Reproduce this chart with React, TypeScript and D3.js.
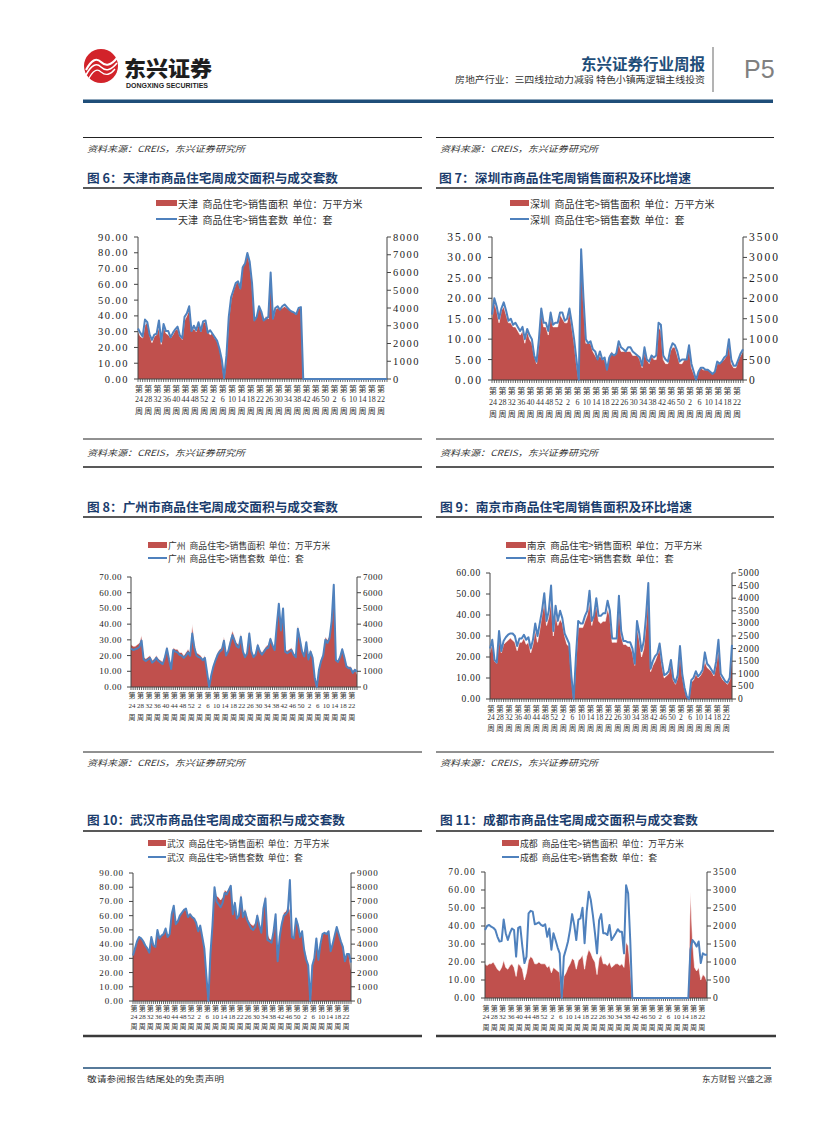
import * as React from 'react';
import * as d3 from 'd3';

// week categories shared by every chart (only every 4th one gets a label)
const weekLabels = [
  '24', '25', '26', '27', '28', '29', '30', '31', '32', '33', '34', '35', '36', '37', '38', '39', '40', '41', '42', '43',
  '44', '45', '46', '47', '48', '49', '50', '51', '52', '53',
  '0', '1', '2', '3', '4', '5', '6', '7', '8', '9', '10', '11', '12', '13', '14', '15', '16', '17', '18', '19',
  '20', '21', '22', '23', '24', '25', '26', '27', '28', '29', '30', '31', '32', '33', '34', '35', '36', '37', '38', '39',
  '40', '41', '42', '43', '44', '45', '46', '47', '48', '49', '50', '51', '52',
  '1', '2', '3', '4', '5', '6', '7', '8', '9', '10', '11', '12', '13', '14', '15', '16', '17', '18', '19', '20',
  '21', '22', '23', '24', '25',
];

// 天津
const tianjinArea = [
  30, 27, 26, 34, 36, 28, 23, 27, 28, 33,
  22, 34, 29, 28, 26, 28, 31, 32, 27, 25,
  37, 40, 44, 30, 32, 30, 35, 30, 36, 36,
  30, 28, 29, 26, 24, 20, 12, 0, 14, 38,
  50, 56, 60, 62, 57, 72, 74, 79, 73, 60,
  37, 40, 46, 43, 37, 40, 38, 66, 38, 44,
  45, 44, 45, 46, 45, 44, 43, 42, 41, 45,
  45, 0, 0, 0, 0, 0, 0, 0, 0, 0,
  0, 0, 0, 0, 0, 0, 0, 0, 0, 0,
  0, 0, 0, 0, 0, 0, 0, 0, 0, 0,
  0, 0, 0, 0, 0, 0, 0, 0,
];
const tianjinSets = [
  2850, 2600, 2400, 3350, 3200, 2500, 2200, 2500, 2550, 3300,
  2100, 3100, 2700, 2700, 2350, 2600, 2800, 2950, 2450, 2300,
  3500, 3700, 4100, 2700, 3000, 2750, 3200, 2700, 3250, 3300,
  2600, 2750, 2550, 2350, 2150, 1700, 1100, 50, 1300, 3500,
  4600, 5000, 5400, 5500, 5100, 6300, 6500, 7100, 6600, 5400,
  3300, 3500, 4100, 3800, 3300, 3400, 3500, 6000, 3400, 4000,
  4100, 3900, 4100, 4200, 4050, 3900, 3800, 3750, 3650, 4000,
  4050, 0, 0, 0, 0, 0, 0, 0, 0, 0,
  0, 0, 0, 0, 0, 0, 0, 0, 0, 0,
  0, 0, 0, 0, 0, 0, 0, 0, 0, 0,
  0, 0, 0, 0, 0, 0, 0, 0,
];

// 深圳
const shenzhenArea = [
  15, 19, 17, 14, 17, 18, 16, 14, 14, 13,
  13, 12, 11, 12, 9, 12, 10, 9, 6, 4,
  9, 17, 13, 13, 11, 16, 13, 13, 13, 16,
  15, 14, 14, 17, 13, 9, 4, 0, 30, 19,
  9, 9, 9, 7, 6, 5, 6, 5, 5, 3,
  6, 7, 6, 7, 9, 7, 7, 7, 7, 7,
  6, 6, 6, 5, 3, 7, 5, 4, 6, 5,
  5, 13, 12, 5, 4, 4, 7, 8, 8, 6,
  4, 4, 5, 5, 8, 3, 1.5, 0, 2, 3,
  2.5, 2.5, 2.5, 2, 1.5, 2, 4, 4, 4.5, 5,
  6, 9, 4, 3, 3, 5, 6, 7,
];
const shenzhenSets = [
  1600, 2000, 1800, 1500, 1750, 1900, 1700, 1450, 1500, 1350,
  1400, 1300, 1200, 1300, 1000, 1250, 1100, 1000, 600, 450,
  1000, 1750, 1400, 1400, 1200, 1650, 1350, 1400, 1400, 1650,
  1650, 1450, 1500, 1750, 1400, 1000, 500, 0, 3200, 2000,
  1000, 900, 950, 750, 700, 500, 700, 500, 550, 250,
  550, 650, 600, 650, 950, 800, 750, 700, 800, 800,
  700, 650, 600, 550, 350, 800, 500, 450, 600, 550,
  600, 1400, 1350, 600, 500, 450, 750, 900, 850, 700,
  450, 500, 500, 500, 850, 400, 200, 0, 200, 300,
  300, 250, 250, 200, 150, 200, 450, 400, 450, 550,
  600, 1000, 500, 350, 350, 500, 650, 750,
];

// 广州
const guangzhouArea = [
  27, 26, 26, 27, 28, 33, 19, 18, 19, 20,
  17, 18, 20, 18, 17, 16, 20, 26, 19, 13,
  25, 24, 24, 22, 22, 20, 22, 24, 22, 40,
  28, 22, 21, 20, 18, 20, 10, 0, 8, 14,
  18, 22, 24, 25, 32, 21, 24, 30, 36, 32,
  28, 27, 34, 24, 20, 23, 36, 24, 20, 22,
  28, 24, 22, 24, 26, 27, 32, 28, 25, 40,
  54, 38, 51, 24, 23, 24, 25, 22, 20, 39,
  32, 24, 21, 30, 19, 24, 20, 6, 0, 12,
  18, 22, 32, 30, 33, 42, 66, 18, 17, 20,
  25, 20, 14, 13, 13, 10, 12, 8,
];
const guangzhouSets = [
  2450, 2350, 2400, 2450, 2550, 2950, 1750, 1650, 1750, 1850,
  1550, 1650, 1850, 1650, 1550, 1450, 1850, 2450, 1750, 1150,
  2350, 2250, 2200, 2050, 2000, 1850, 2000, 2200, 2000, 3400,
  2500, 2000, 1900, 1850, 1700, 1850, 950, 0, 750, 1300,
  1700, 2050, 2250, 2350, 2950, 2000, 2250, 2800, 3300, 2950,
  2600, 2500, 3200, 2250, 1900, 2150, 3400, 2250, 1900, 2050,
  2650, 2250, 2050, 2250, 2450, 2500, 3050, 2650, 2350, 3900,
  5300, 3600, 5000, 2250, 2150, 2250, 2350, 2050, 1900, 3700,
  3000, 2250, 1950, 2850, 1750, 2250, 1850, 550, 0, 1100,
  1650, 2000, 3000, 2800, 3100, 4200, 6500, 1700, 1600, 1900,
  2400, 1900, 1300, 1200, 1200, 900, 1100, 1000,
];

// 南京
const nanjingArea = [
  22, 27, 18, 17, 30, 22, 26, 27, 28, 29,
  28, 27, 23, 27, 27, 29, 26, 27, 22, 26,
  33, 27, 33, 40, 46, 35, 39, 47, 30, 40,
  35, 38, 36, 30, 26, 25, 10, 0, 18, 34,
  34, 34, 37, 40, 46, 35, 40, 45, 37, 36,
  37, 37, 43, 39, 27, 27, 27, 45, 30, 26,
  26, 25, 25, 22, 16, 34, 28, 20, 24, 35,
  53, 13, 16, 18, 21, 24, 16, 10, 11, 12,
  17, 9, 7, 10, 23, 11, 5, 1, 0, 8,
  9, 12, 10, 11, 13, 18, 15, 14, 13, 11,
  16, 24, 11, 9, 8, 7, 9, 24,
];
const nanjingSets = [
  2000, 2350, 1550, 1450, 2700, 1900, 2300, 2450, 2550, 2600,
  2600, 2500, 2100, 2400, 2400, 2550, 2350, 2450, 2000, 2350,
  3000, 2500, 3000, 3500, 4200, 3100, 3500, 4500, 2700, 3700,
  3100, 3500, 3200, 2600, 2400, 2200, 900, 0, 1700, 3100,
  3000, 3000, 3300, 3500, 4300, 3100, 3300, 4000, 3300, 3300,
  3400, 3400, 3900, 3500, 2400, 2400, 2400, 4100, 2700, 2300,
  2300, 2250, 2250, 2000, 1400, 3100, 2600, 1900, 2300, 3300,
  4600, 1200, 1500, 1700, 1800, 2200, 1500, 950, 1000, 1100,
  1550, 850, 650, 950, 2100, 1000, 450, 100, 0, 750,
  850, 1100, 900, 1000, 1150, 1850, 1400, 1300, 1150, 1000,
  1500, 2350, 1000, 850, 700, 650, 850, 2150,
];

// 武汉
const wuhanArea = [
  33, 37, 42, 45, 44, 43, 40, 38, 35, 44,
  40, 38, 50, 45, 46, 48, 51, 46, 48, 63,
  67, 56, 57, 60, 63, 65, 64, 60, 62, 60,
  58, 56, 50, 53, 46, 38, 20, 0, 35, 55,
  80, 74, 73, 71, 73, 78, 77, 79, 82, 66,
  70, 58, 62, 76, 61, 65, 60, 56, 54, 53,
  55, 62, 55, 50, 67, 75, 48, 44, 43, 50,
  62, 32, 48, 56, 62, 63, 67, 64, 46, 45,
  58, 55, 45, 50, 38, 32, 27, 0, 25, 30,
  45, 31, 40, 47, 48, 48, 50, 36, 41, 47,
  52, 48, 43, 39, 28, 33, 33, 22,
];
const wuhanSets = [
  3200, 3700, 4200, 4500, 4400, 4200, 3900, 3700, 3400, 4500,
  3900, 3800, 5000, 4400, 4600, 4700, 5100, 4500, 4700, 6100,
  6700, 5400, 5600, 6000, 6200, 6400, 6500, 5900, 6100, 5900,
  5800, 5500, 4900, 5300, 4500, 3700, 1800, 0, 3300, 5300,
  8000, 7000, 6800, 6600, 6900, 7600, 7500, 7800, 8100, 6100,
  6900, 5800, 6000, 7300, 5900, 6300, 5700, 5400, 5100, 5000,
  5200, 6000, 5300, 4800, 6500, 7200, 4300, 4200, 4100, 4900,
  6100, 2800, 4500, 5400, 6000, 6100, 6300, 8500, 4500, 4400,
  5800, 5300, 4500, 4900, 3600, 2900, 2500, 0, 2500, 3000,
  4400, 2900, 4000, 4700, 4800, 4700, 4900, 3500, 4000, 4600,
  5200, 4700, 4200, 3800, 2800, 3300, 3300, 2700,
];

// 成都
const chengduArea = [
  19, 18, 19, 19, 20, 18, 16, 15, 17, 21,
  17, 16, 18, 19, 17, 12, 19, 18, 16, 10,
  14, 21, 23, 22, 19, 19, 20, 19, 19, 19,
  17, 18, 14, 17, 16, 15, 14, 0, 12, 14,
  17, 19, 22, 21, 16, 21, 22, 24, 16, 23,
  27, 25, 22, 20, 13, 22, 24, 19, 19, 18,
  20, 17, 18, 19, 19, 18, 19, 17, 31, 29,
  17, 0, 0, 0, 0, 0, 0, 0, 0, 0,
  0, 0, 0, 0, 0, 0, 0, 0, 0, 0,
  0, 0, 0, 0, 0, 0, 0, 0, 0, 59,
  32, 17, 15, 17, 10, 13, 12, 9,
];
const chengduSets = [
  1890, 2000, 2030, 1980, 1950, 1890, 1700, 1570, 1580, 2180,
  1800, 1610, 1800, 1930, 1890, 1150, 1950, 1980, 1430, 970,
  1150, 2350, 2420, 2400, 2050, 2070, 2100, 2030, 2000, 2050,
  1700, 1930, 1340, 1800, 1610, 1400, 1240, 0, 1150, 1350,
  1570, 1900, 2330, 2030, 1610, 2180, 2210, 2510, 1520, 2390,
  2950, 2720, 2300, 1800, 1240, 2160, 2330, 1800, 1800, 1750,
  2030, 1610, 1700, 1800, 1910, 1840, 1840, 1240, 3130, 2900,
  1610, 0, 0, 0, 0, 0, 0, 0, 0, 0,
  0, 0, 0, 0, 0, 0, 0, 0, 0, 0,
  0, 0, 0, 0, 0, 0, 0, 0, 0, 1340,
  1610, 1540, 1430, 1570, 970, 1240, 1200, 1200,
];

const CJK = '"Noto Sans CJK SC", "Noto Sans", sans-serif';
const SERIF = '"Liberation Serif", "DejaVu Serif", serif';
const RED = '#C0504D';
const BLUE = '#4F81BD';
const NAVY = '#1b3d6d';
const AXIS = '#444';
const SP = '\u00A0';

const charts = [
  {
    title: '图 6：天津市商品住宅周成交面积与成交套数', city: '天津', area: tianjinArea, sets: tianjinSets,
    yMax: 90, yStep: 10, y2Max: 8000, y2Step: 1000,
    l: 138, r: 387, t: 237, b: 379, tf: 10.5, tls: 1.5, xf: 8, xl: [388, 399, 410],
    legX: 156, legW: 21, legY: [203, 219], legF: 10,
    titleX: 87, titleY: 177, titleW: 251,
  },
  {
    title: '图 7：深圳市商品住宅周销售面积及环比增速', city: '深圳', area: shenzhenArea, sets: shenzhenSets,
    yMax: 35, yStep: 5, y2Max: 3500, y2Step: 500,
    l: 492, r: 743, t: 237, b: 380, tf: 11.5, tls: 2, xf: 8, xl: [390, 402, 413],
    legX: 510, legW: 19, legY: [203, 219], legF: 10,
    titleX: 439, titleY: 177, titleW: 252,
  },
  {
    title: '图 8：广州市商品住宅周成交面积与成交套数', city: '广州', area: guangzhouArea, sets: guangzhouSets,
    yMax: 70, yStep: 10, y2Max: 7000, y2Step: 1000,
    l: 131, r: 357, t: 577, b: 687, tf: 9, tls: 0.5, xf: 7, xl: [695, 706, 717],
    legX: 148, legW: 19, legY: [545, 558], legF: 8.8,
    titleX: 87, titleY: 506, titleW: 251,
  },
  {
    title: '图 9：南京市商品住宅周销售面积及环比增速', city: '南京', area: nanjingArea, sets: nanjingSets,
    yMax: 60, yStep: 10, y2Max: 5000, y2Step: 500,
    l: 490, r: 732, t: 573, b: 699, tf: 9.5, tls: 0.7, xf: 7.5, xl: [708, 717, 727],
    legX: 506, legW: 20, legY: [545, 558], legF: 9.5,
    titleX: 440, titleY: 506, titleW: 252,
  },
  {
    title: '图 10：武汉市商品住宅周成交面积与成交套数', city: '武汉', area: wuhanArea, sets: wuhanSets,
    yMax: 90, yStep: 10, y2Max: 9000, y2Step: 1000,
    l: 133, r: 351, t: 873, b: 1001, tf: 9, tls: 0.9, xf: 7, xl: [1008, 1017, 1026],
    legX: 148, legW: 18, legY: [843, 857], legF: 8.8,
    titleX: 87, titleY: 819, titleW: 258,
  },
  {
    title: '图 11：成都市商品住宅周成交面积与成交套数', city: '成都', area: chengduArea, sets: chengduSets,
    yMax: 70, yStep: 10, y2Max: 3500, y2Step: 500,
    l: 485, r: 707, t: 872, b: 998, tf: 9.5, tls: 1.3, xf: 7, xl: [1008, 1017, 1027],
    legX: 502, legW: 17, legY: [843, 857], legF: 8.9,
    titleX: 440, titleY: 819, titleW: 258,
  },
];

function Chart({ c }: { c: any }) {
  const n = c.area.length;
  const x = d3.scalePoint<number>().domain(d3.range(n)).range([c.l, c.r]);
  const y = d3.scaleLinear().domain([0, c.yMax]).range([c.b, c.t]);
  const y2 = d3.scaleLinear().domain([0, c.y2Max]).range([c.b, c.t]);

  const areaGen = d3.area<number>().x((_, i) => x(i)!).y0(c.b).y1(d => y(d));
  const topGen = d3.line<number>().x((_, i) => x(i)!).y(d => y(d));
  const lineGen = d3.line<number>().x((_, i) => x(i)!).y(d => y2(d));

  const ticks = d3.range(0, c.yMax + 1e-9, c.yStep);
  const ticks2 = d3.range(0, c.y2Max + 1e-9, c.y2Step);

  return (
    <g>
      {/* legend */}
      <rect x={c.legX} y={c.legY[0] - 3} width={c.legW} height={6} fill={RED} />
      <text x={c.legX + c.legW + 1} y={c.legY[0]} dominantBaseline="central" fontFamily={CJK} fontSize={c.legF} fill="#333">
        {c.city + SP + ' 商品住宅>销售面积' + SP + ' 单位：万平方米'}
      </text>
      <line x1={c.legX} x2={c.legX + c.legW} y1={c.legY[1]} y2={c.legY[1]} stroke={BLUE} strokeWidth={2} />
      <text x={c.legX + c.legW + 1} y={c.legY[1]} dominantBaseline="central" fontFamily={CJK} fontSize={c.legF} fill="#333">
        {c.city + SP + ' 商品住宅>销售套数' + SP + ' 单位：套'}
      </text>

      {/* area */}
      <path d={areaGen(c.area)!} fill={RED} />
      <path d={topGen(c.area)!} fill="none" stroke="#fff" strokeWidth={0.7} strokeOpacity={0.85} />

      {/* left axis */}
      <line x1={c.l} x2={c.l} y1={c.t} y2={c.b} stroke={AXIS} strokeWidth={1} />
      {ticks.map(v => (
        <g key={'l' + v}>
          <line x1={c.l - 4} x2={c.l} y1={y(v)} y2={y(v)} stroke={AXIS} strokeWidth={1} />
          <text x={c.l - 9} y={y(v)} textAnchor="end" dominantBaseline="central" fontFamily={SERIF}
            fontSize={c.tf} letterSpacing={c.tls} fill="#222">{v.toFixed(2)}</text>
        </g>
      ))}

      {/* right axis */}
      <line x1={c.r} x2={c.r} y1={c.t} y2={c.b} stroke={AXIS} strokeWidth={1} />
      {ticks2.map(v => (
        <g key={'r' + v}>
          <line x1={c.r} x2={c.r + 4} y1={y2(v)} y2={y2(v)} stroke={AXIS} strokeWidth={1} />
          <text x={c.r + 6} y={y2(v)} dominantBaseline="central" fontFamily={SERIF}
            fontSize={c.tf} letterSpacing={c.tls} fill="#222">{v}</text>
        </g>
      ))}

      {/* category axis */}
      <line x1={c.l} x2={c.r} y1={c.b} y2={c.b} stroke={AXIS} strokeWidth={1.2} />
      {d3.range(n).map(i => (
        <line key={'t' + i} x1={x(i)} x2={x(i)} y1={c.b} y2={c.b + 3} stroke={AXIS} strokeWidth={0.8} />
      ))}
      {d3.range(0, n, 4).map(i => (
        <g key={'x' + i} fill="#333" textAnchor="middle">
          <text x={x(i)! + 1} y={c.xl[0]} dominantBaseline="central" fontFamily={CJK} fontSize={c.xf}>第</text>
          <text x={x(i)! + 1} y={c.xl[1]} dominantBaseline="central" fontFamily={SERIF} fontSize={c.xf}>{weekLabels[i]}</text>
          <text x={x(i)! + 1} y={c.xl[2]} dominantBaseline="central" fontFamily={CJK} fontSize={c.xf}>周</text>
        </g>
      ))}

      {/* line series on top of the axes */}
      <path d={lineGen(c.sets)!} fill="none" stroke={BLUE} strokeWidth={2} strokeLinejoin="round" />

      {/* title */}
      <text x={c.titleX} y={c.titleY} dominantBaseline="central" fontFamily={CJK} fontSize={12.5} fontWeight={700}
        fill={NAVY} textLength={c.titleW} lengthAdjust="spacingAndGlyphs">{c.title}</text>
    </g>
  );
}

const cols = [[83, 422], [436, 774]];
const rules = [
  { y: 137.5, w: 1, c: '#222' },
  { y: 188, w: 1.6, c: '#222' },
  { y: 439, w: 1, c: '#222' },
  { y: 467, w: 1.6, c: '#222' },
  { y: 517, w: 1.6, c: '#222' },
  { y: 752, w: 1, c: '#222' },
  { y: 831, w: 1.6, c: '#222' },
  { y: 1036, w: 2.6, c: '#3a3a3a' },
];
const sourceYs = [148, 452, 762];

export default function App() {
  return (
    <svg width={827} height={1122} viewBox="0 0 827 1122"
      style={{ position: 'absolute', left: 0, top: 0, background: '#fff' }}>
      <rect x={0} y={0} width={827} height={1122} fill="#fff" />

      {/* header */}
      <circle cx={101} cy={66} r={17} fill="#d2232a" />
      <path d="M86,70 Q94,55 101,62 Q108,69 117,58" fill="none" stroke="#fff" strokeWidth={2} />
      <path d="M86,75 Q94,60 101,67 Q108,74 117,63" fill="none" stroke="#fff" strokeWidth={1.6} />
      <path d="M88,80 Q95,66 101,72 Q108,78 115,69" fill="none" stroke="#fff" strokeWidth={1.3} />
      <text x={124} y={67} dominantBaseline="central" fontFamily={CJK} fontSize={21} fontWeight={900}
        fill="#1e1e1e" textLength={88} lengthAdjust="spacingAndGlyphs">东兴证券</text>
      <text x={126} y={85.5} dominantBaseline="central" fontFamily='"Liberation Sans", Arial, sans-serif'
        fontSize={6.5} fontWeight={700} fill="#1e1e1e" textLength={82} lengthAdjust="spacingAndGlyphs">DONGXING SECURITIES</text>

      <text x={705} y={63} textAnchor="end" dominantBaseline="central" fontFamily={CJK} fontSize={15.5}
        fontWeight={700} fill="#1f4e79">东兴证券行业周报</text>
      <text x={705} y={79} textAnchor="end" dominantBaseline="central" fontFamily={CJK} fontSize={9}
        fill="#333" textLength={250} lengthAdjust="spacingAndGlyphs">房地产行业：三四线拉动力减弱 特色小镇两逻辑主线投资</text>
      <line x1={713} x2={713} y1={47} y2={92} stroke="#9a9a9a" strokeWidth={1.5} />
      <text x={744} y={69} dominantBaseline="central" fontFamily='"Liberation Sans Narrow", "Liberation Sans", sans-serif'
        fontSize={25} fill="#808080">P5</text>
      <rect x={83} y={99.5} width={690} height={3.5} fill="#1f4e79" />

      {/* section rules and sources */}
      {cols.map(([x1, x2], ci) => (
        <g key={'c' + ci}>
          {rules.map(r => (
            <line key={r.y} x1={x1} x2={ci === 1 && r.w > 2 ? 776 : x2} y1={r.y} y2={r.y} stroke={r.c} strokeWidth={r.w} />
          ))}
          {sourceYs.map(sy => (
            <text key={sy} x={x1 + 4} y={sy} dominantBaseline="central" fontFamily={CJK} fontSize={8.5}
              fontStyle="italic" fill="#333" textLength={158} lengthAdjust="spacingAndGlyphs">资料来源：CREIS，东兴证券研究所</text>
          ))}
        </g>
      ))}

      {charts.map((c, i) => <Chart key={i} c={c} />)}

      {/* footer */}
      <line x1={83} x2={771} y1={1068} y2={1068} stroke="#1f4e79" strokeWidth={1.5} />
      <text x={87} y={1078} dominantBaseline="central" fontFamily={CJK} fontSize={8.5} fill="#333"
        textLength={137} lengthAdjust="spacingAndGlyphs">敬请参阅报告结尾处的免责声明</text>
      <text x={772} y={1078} textAnchor="end" dominantBaseline="central" fontFamily={CJK} fontSize={8.5} fill="#333">东方财智 兴盛之源</text>
    </svg>
  );
}
